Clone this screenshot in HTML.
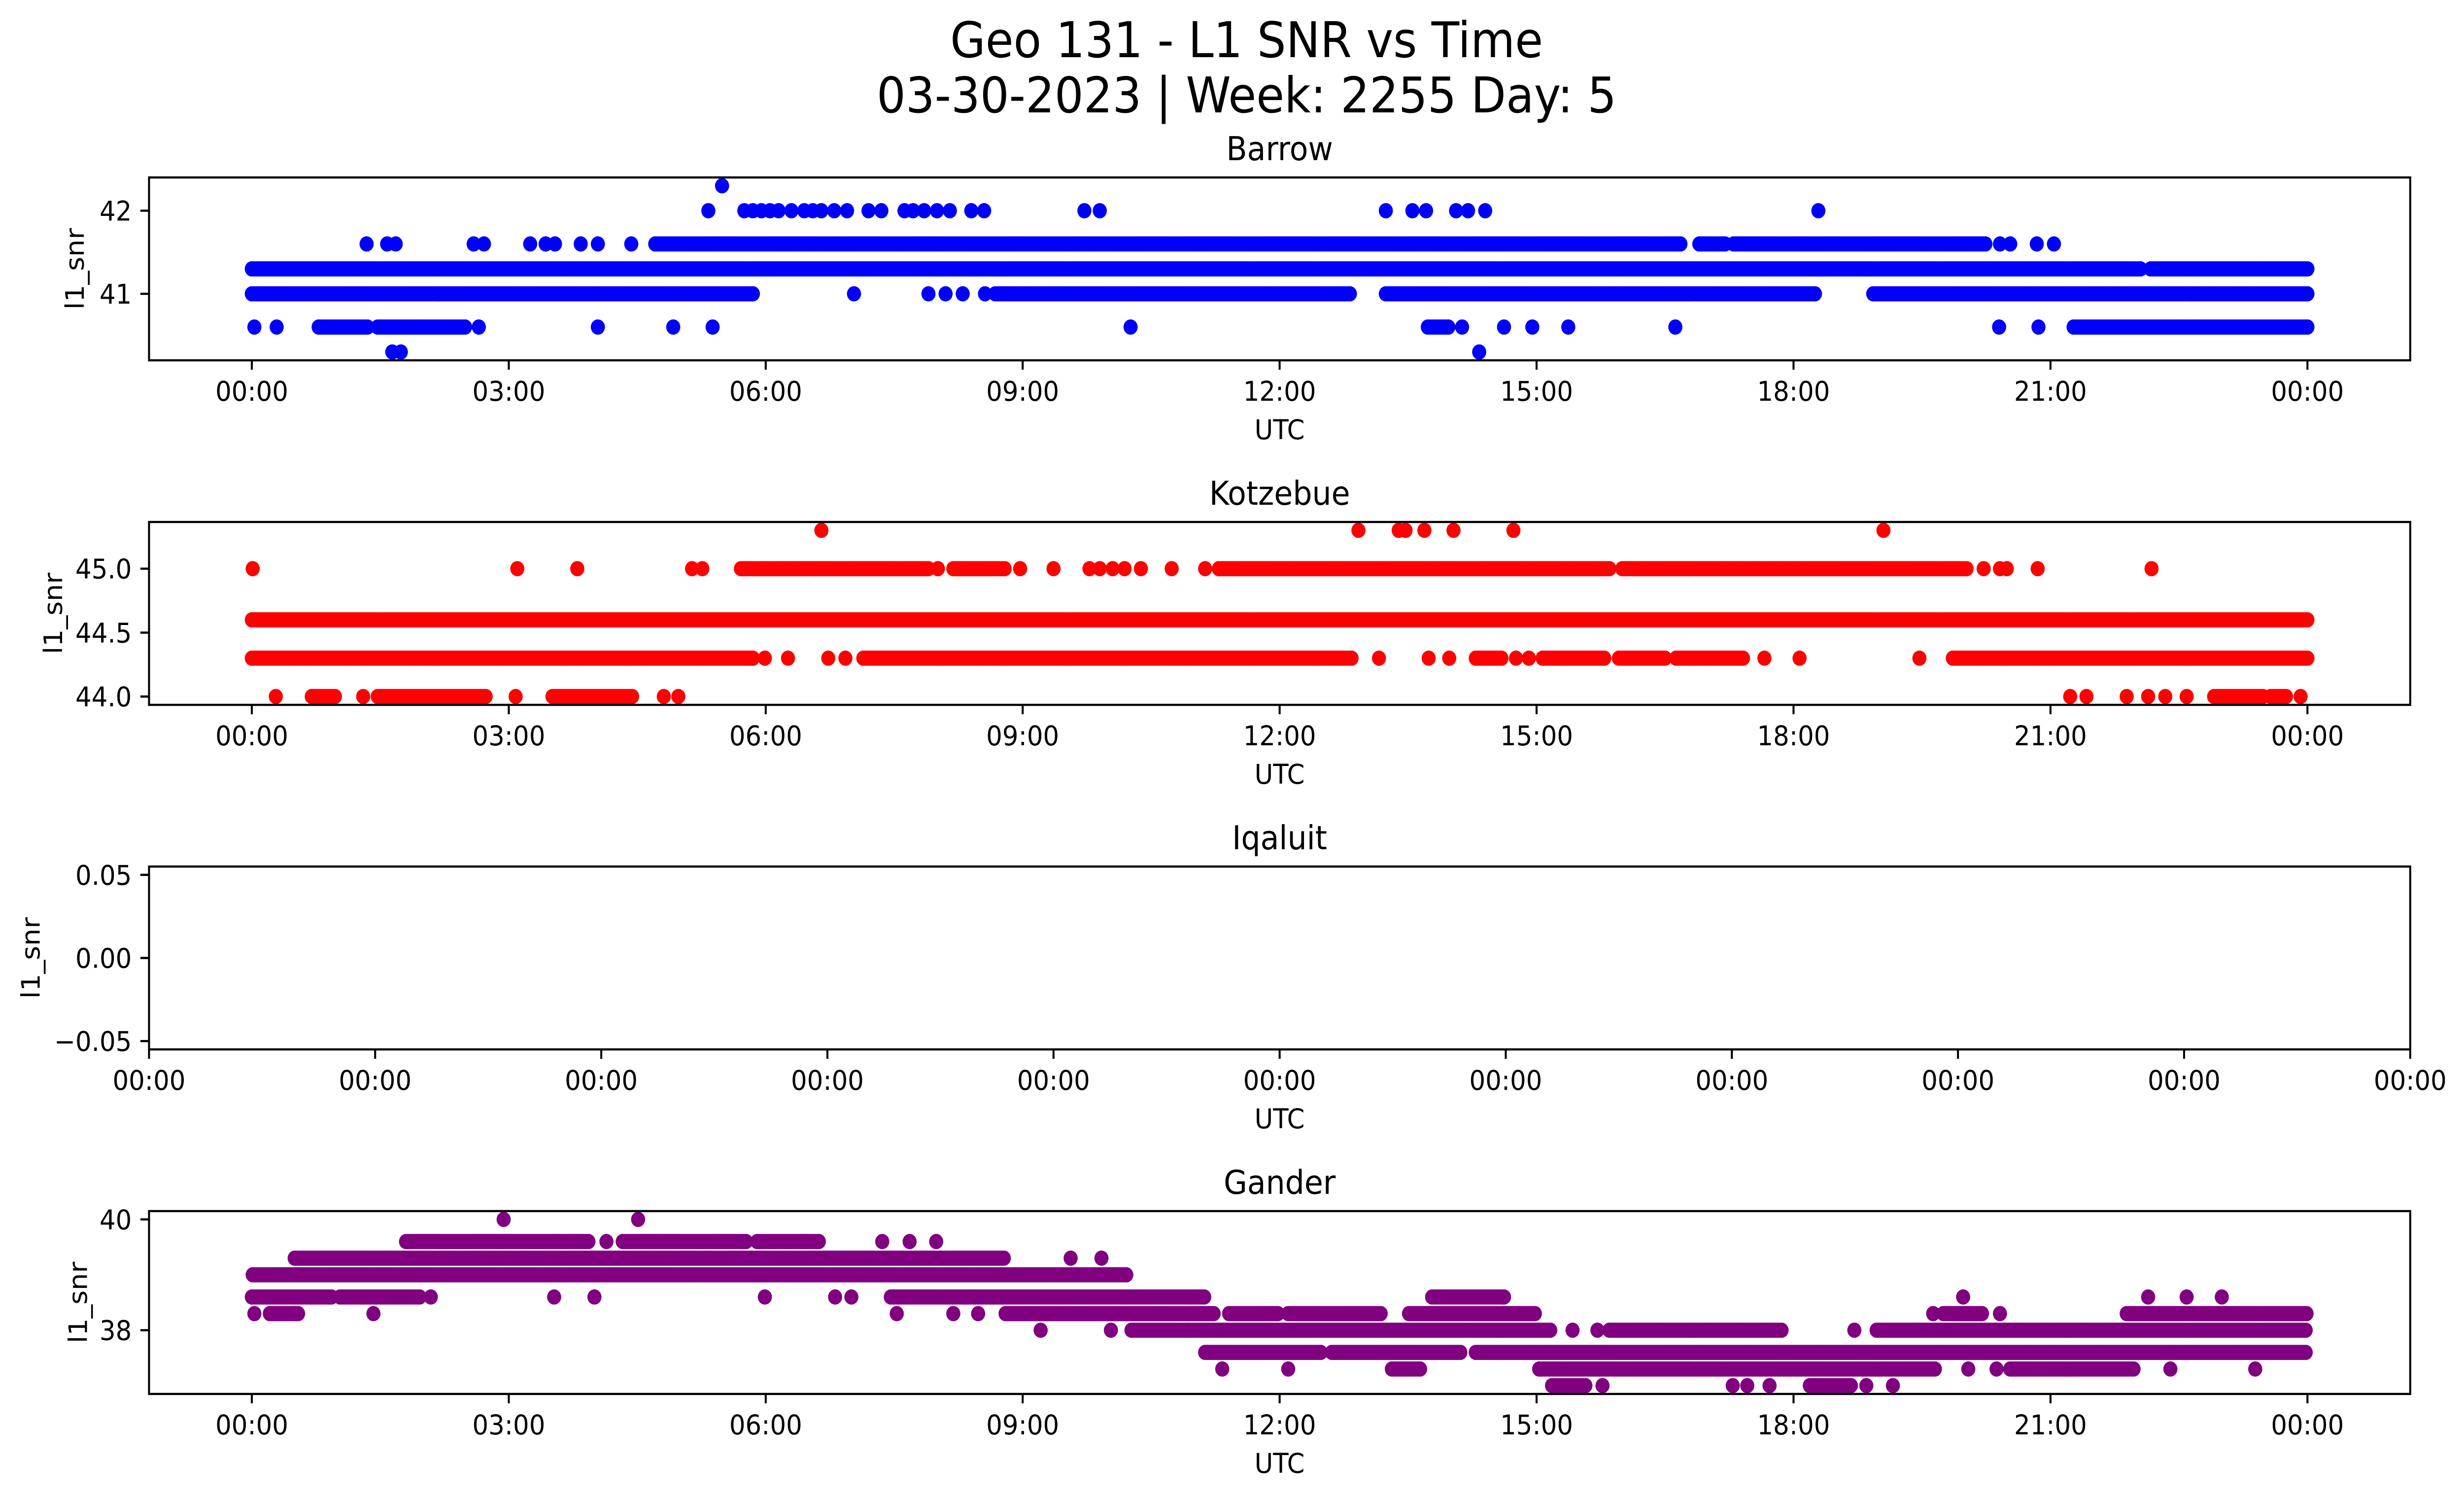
<!DOCTYPE html>
<html>
<head>
<meta charset="utf-8">
<meta name="viewport" content="width=5406">
<style>
html,body{margin:0;padding:0;background:#fff;overflow:hidden;width:100vw;height:100vh;}
svg{display:block;width:100vw;height:100vh;}
text{font-family:"DejaVu Sans","Liberation Sans",sans-serif;fill:#000;}
</style>
</head>
<body>
<svg id="fig" xmlns="http://www.w3.org/2000/svg" viewBox="0 0 5406 3033" preserveAspectRatio="none">
<rect x="0" y="0" width="5406" height="3033" fill="#fff"/>
<text x="2735" y="116" font-size="100" text-anchor="middle">Geo 131 - L1 SNR vs Time</text>
<text x="2735" y="228" font-size="100" text-anchor="middle">03-30-2023 | Week: 2255 Day: 5</text>
</svg>
<script>
// ---- data ----
const xTickHours = [0,3,6,9,12,15,18,21,24];
const xTickLabels = ["00:00","03:00","06:00","09:00","12:00","15:00","18:00","21:00","00:00"];
const stationNames = ["Barrow","Kotzebue","Iqaluit","Gander"];
const stationColors = ["#0000ff","#ff0000","#800080","#800080"];

const barrowYTicks = [41,42];
const barrowYTickLabels = ["41","42"];
const barrowRuns = [[41.3,0,22.05],[41.3,22.17,24],[41.0,0,5.85],[41.0,8.68,12.83],[41.0,13.24,18.27],[41.0,18.93,24],[41.6,4.71,16.7],[41.6,16.9,17.2],[41.6,17.3,20.25],[40.6,0.78,1.35],[40.6,1.47,2.5],[40.6,21.27,24],[40.6,13.73,13.98]];
const barrowPoints = [[41.0,7.03],[41.0,7.9],[41.0,8.1],[41.0,8.3],[41.0,8.56],
[41.6,1.34],[41.6,1.58],[41.6,1.68],[41.6,2.59],[41.6,2.71],[41.6,3.25],[41.6,3.43],[41.6,3.54],[41.6,3.84],[41.6,4.04],[41.6,4.43],[41.6,20.41],[41.6,20.53],[41.6,20.84],[41.6,21.04],
[42.0,5.33],[42.0,5.75],[42.0,5.85],[42.0,5.95],[42.0,6.05],[42.0,6.15],[42.0,6.3],[42.0,6.45],[42.0,6.55],[42.0,6.65],[42.0,6.8],[42.0,6.95],[42.0,7.2],[42.0,7.35],[42.0,7.62],[42.0,7.72],[42.0,7.85],[42.0,8.0],[42.0,8.15],[42.0,8.4],[42.0,8.55],[42.0,9.72],[42.0,9.9],[42.0,13.24],[42.0,13.55],[42.0,13.71],[42.0,14.06],[42.0,14.2],[42.0,14.4],[42.0,18.29],
[40.6,0.03],[40.6,0.29],[40.6,2.65],[40.6,4.04],[40.6,4.92],[40.6,5.38],[40.6,10.26],[40.6,14.13],[40.6,14.62],[40.6,14.95],[40.6,15.37],[40.6,16.62],[40.6,20.4],[40.6,20.86],
[40.3,1.64],[40.3,1.74],[40.3,14.33],[42.3,5.49]];

const kotzYTicks = [44.0,44.5,45.0];
const kotzYTickLabels = ["44.0","44.5","45.0"];
const kotzRuns = [[44.6,0,24],[45.0,5.71,7.91],[45.0,8.19,8.81],[45.0,11.29,15.85],[45.0,16.0,20.02],[44.3,0,5.87],[44.3,7.14,12.84],[44.3,15.07,15.81],[44.3,15.96,16.51],[44.3,16.63,17.41],[44.3,19.86,24],[44.3,14.29,14.6],[44.0,1.47,2.74],[44.0,3.51,4.45],[44.0,22.91,23.49],[44.0,23.57,23.76],[44.0,0.7,0.99]];
const kotzPoints = [[45.3,6.65],[45.3,12.92],[45.3,13.39],[45.3,13.47],[45.3,13.69],[45.3,14.03],[45.3,14.73],[45.3,19.05],
[45.0,0.01],[45.0,3.10],[45.0,3.80],[45.0,5.14],[45.0,5.26],[45.0,8.01],[45.0,8.97],[45.0,9.36],[45.0,9.78],[45.0,9.9],[45.0,10.05],[45.0,10.19],[45.0,10.38],[45.0,10.74],[45.0,11.13],[45.0,20.22],[45.0,20.41],[45.0,20.49],[45.0,20.85],[45.0,22.18],
[44.3,5.99],[44.3,6.26],[44.3,6.73],[44.3,6.93],[44.3,13.16],[44.3,13.74],[44.3,13.98],[44.3,14.76],[44.3,14.91],[44.3,17.66],[44.3,18.07],[44.3,19.47],
[44.0,0.28],[44.0,1.3],[44.0,3.08],[44.0,4.81],[44.0,4.98],[44.0,21.23],[44.0,21.42],[44.0,21.89],[44.0,22.14],[44.0,22.34],[44.0,22.59],[44.0,23.92]];

const iqalYTicks = [-0.05,0,0.05];
const iqalYTickLabels = ["\u22120.05","0.00","0.05"];
const iqalXTickLabels = ["00:00","00:00","00:00","00:00","00:00","00:00","00:00","00:00","00:00","00:00","00:00"];

const ganderYTicks = [38,40];
const ganderYTickLabels = ["38","40"];
const ganderRuns = [[39.6,1.80,3.94],[39.6,4.33,5.77],[39.6,5.90,6.63],[39.3,0.50,8.80],[39.0,0.01,10.21],[38.6,0,0.95],[38.6,1.03,1.96],[38.6,7.46,11.13],[38.6,13.78,14.64],[38.3,0.21,0.54],[38.3,8.80,11.25],[38.3,11.41,11.98],[38.3,12.1,13.2],[38.3,13.51,15.0],[38.3,19.75,20.22],[38.3,21.89,24],[38.0,10.27,15.18],[38.0,15.85,17.87],[38.0,18.97,24],[37.6,11.13,12.49],[37.6,12.61,14.13],[37.6,14.29,24],[37.3,15.03,19.67],[37.3,20.53,21.97],[37.3,13.31,13.65],[37.0,15.18,15.57],[37.0,18.19,18.69]];
const ganderPoints = [[40.0,2.94],[40.0,4.51],[39.6,4.14],[39.6,7.36],[39.6,7.68],[39.6,7.99],[39.3,9.56],[39.3,9.92],
[38.6,2.09],[38.6,3.53],[38.6,4.0],[38.6,5.99],[38.6,6.81],[38.6,7.0],[38.6,19.98],[38.6,22.14],[38.6,22.59],[38.6,23.0],
[38.3,0.03],[38.3,1.42],[38.3,7.53],[38.3,8.19],[38.3,8.48],[38.3,19.63],[38.3,20.41],
[38.0,9.21],[38.0,10.03],[38.0,15.42],[38.0,15.71],[38.0,18.71],
[37.3,11.33],[37.3,12.1],[37.3,20.04],[37.3,20.37],[37.3,22.4],[37.3,23.39],
[37.0,15.77],[37.0,17.29],[37.0,17.46],[37.0,17.72],[37.0,18.85],[37.0,19.16]];

// ---- layout ----
const NS = "http://www.w3.org/2000/svg";
const svg = document.getElementById("fig");
const L = 327, R = 5288, H = 371;
const tops = [360, 1059, 1758, 2457];
const ylabelX = [166, 118, 69, 173];
const xMin = -1.2, xMax = 25.2;
function xScale(t){ return L + (t - xMin) / (xMax - xMin) * (R - L); }
function mk(tag, attrs, parent){
  const e = document.createElementNS(NS, tag);
  for (const k in attrs) e.setAttribute(k, attrs[k]);
  (parent || svg).appendChild(e);
  return e;
}

function panel(i, ylim, yTicks, yTickLabels, runs, points, emptyX){
  const top = tops[i], bot = top + H;
  const g = mk("g", {});
  
  
  const yScale = v => bot - (v - ylim[0]) / (ylim[1] - ylim[0]) * H;
  const color = stationColors[i];
  const pg = mk("g", {fill: color}, g);
  
  
  for (const r of runs){
    for (let t = r[1]; t <= r[2] + 1e-9; t += 0.03){
      const c = mk("circle", {cx: xScale(t).toFixed(1), cy: yScale(r[0]).toFixed(1), r: 15.5}, pg);
      
      
    }
  }
  for (const p of points){
    const c = mk("circle", {cx: xScale(p[1]).toFixed(1), cy: yScale(p[0]).toFixed(1), r: 15.5}, pg);
    
    
  }
  const fr = mk("rect", {x: L, y: top, width: R - L, height: H, fill: "none", stroke: "#000", "stroke-width": 4.4}, g);
  
  
  yTicks.forEach((v, k) => {
    const y = yScale(v);
    mk("line", {x1: L - 19, x2: L, y1: y, y2: y, stroke: "#000", "stroke-width": 4.4}, g);
    const tx = mk("text", {x: L - 38, y: y + 20, "font-size": 55.5, "text-anchor": "end"}, g);
    tx.textContent = yTickLabels[k];
    
    
  });
  let xs, labels;
  if (emptyX){
    xs = emptyX.map((_, k) => L + k * (R - L) / (emptyX.length - 1));
    labels = emptyX;
  } else {
    xs = xTickHours.map(xScale);
    labels = xTickLabels;
  }
  xs.forEach((x, k) => {
    mk("line", {x1: x, x2: x, y1: bot, y2: bot + 19, stroke: "#000", "stroke-width": 4.4}, g);
    const tx = mk("text", {x: x, y: bot + 82, "font-size": 55.5, "text-anchor": "middle"}, g);
    tx.textContent = labels[k];
    
    
  });
  const xl = mk("text", {x: (L + R) / 2, y: bot + 160, "font-size": 55.5, "text-anchor": "middle"}, g);
  xl.textContent = "UTC";
  
  
  const cy = top + H / 2, cx = ylabelX[i] + 18;
  const yl = mk("text", {x: cx, y: cy, "font-size": 55.5, "text-anchor": "middle", transform: "rotate(-90 " + cx + " " + cy + ")"}, g);
  yl.textContent = "l1_snr";
  
  
  const tt = mk("text", {x: (L + R) / 2, y: top - 35, "font-size": 66.7, "text-anchor": "middle"}, g);
  tt.textContent = stationNames[i];
  
  
}

panel(0, [40.2, 42.4], barrowYTicks, barrowYTickLabels, barrowRuns, barrowPoints, null);
panel(1, [43.935, 45.365], kotzYTicks, kotzYTickLabels, kotzRuns, kotzPoints, null);
panel(2, [-0.055, 0.055], iqalYTicks, iqalYTickLabels, [], [], iqalXTickLabels);
panel(3, [36.85, 40.15], ganderYTicks, ganderYTickLabels, ganderRuns, ganderPoints, null);
</script>
</body>
</html>
